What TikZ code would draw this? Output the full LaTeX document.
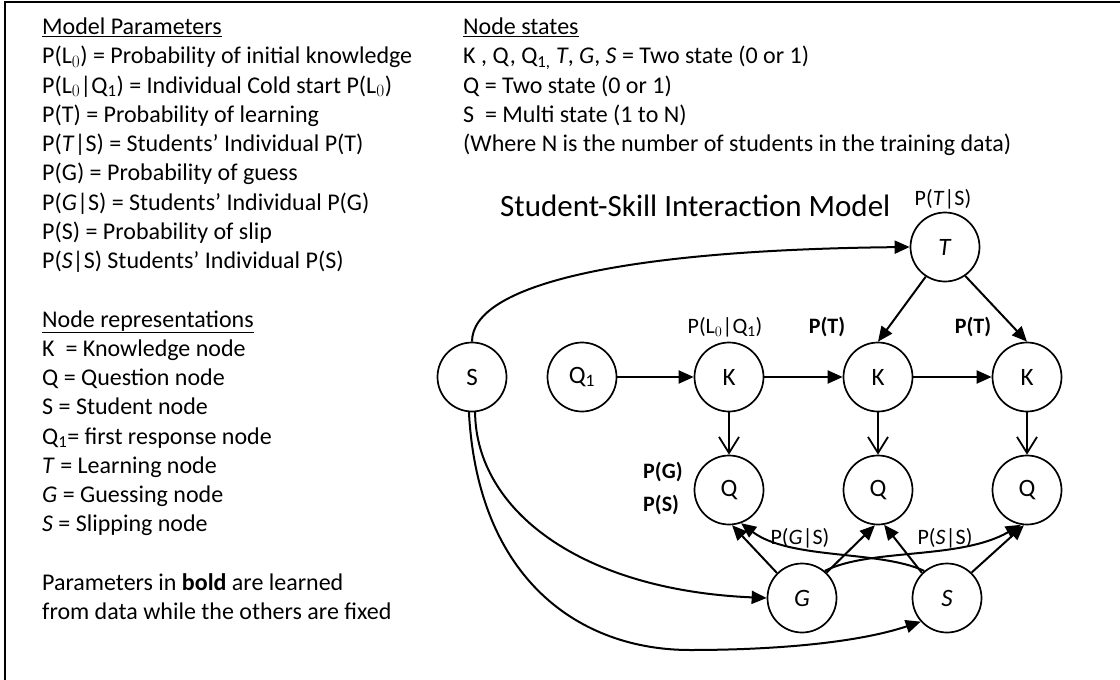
\documentclass[tikz,border=0pt]{standalone}
\usepackage{fontspec}
\setmainfont{Carlito}
\usetikzlibrary{arrows.meta}
\begin{document}
\begin{tikzpicture}[x=1pt,y=-1pt,
  txt/.style={anchor=base west, inner sep=0pt, font=\fontsize{24}{29}\selectfont},
  nd/.style={circle, draw, line width=1.7pt, minimum size=69pt, inner sep=0pt, font=\fontsize{25}{30}\selectfont},
  lbl/.style={inner sep=0pt, font=\fontsize{22}{26}\selectfont},
  blbl/.style={inner sep=0pt, font=\fontsize{22}{26}\selectfont\bfseries},
  arr/.style={line width=2pt, -{Triangle[length=15pt,width=13pt]}},
  oarr/.style={line width=1.8pt, -{Straight Barb[length=16pt,width=20pt]}},
]
\useasboundingbox (0,0) rectangle (1120,680);
\clip (0,0) rectangle (1120,680);
\draw[line width=2pt] (5,700) -- (5,2) -- (1130,2);

% left column
\node[txt] (mp)  at (42,34.5)   {\underline{Model Parameters}};
\node[txt] (p1)  at (42,63.75)  {P(L$_0$) = Probability of initial knowledge};
\node[txt] (p2)  at (42,93)     {P(L$_0$|Q\textsubscript{1}) = Individual Cold start P(L$_0$)};
\node[txt] (p3)  at (42,122.25) {P(T) = Probability of learning};
\node[txt] (p4)  at (42,151.5)  {P(\textit{T}|S) = Students’ Individual P(T)};
\node[txt] (p5)  at (42,180.75) {P(G) = Probability of guess};
\node[txt] (p6)  at (42,210)    {P(\textit{G}|S) = Students’ Individual P(G)};
\node[txt] (p7)  at (42,239.25) {P(S) = Probability of slip};
\node[txt] (p8)  at (42,268.5)  {P(\textit{S}|S) Students’ Individual P(S)};
\node[txt] (nr)  at (42,327)    {\underline{Node representations}};
\node[txt] (r1)  at (42,356.25) {K~ = Knowledge node};
\node[txt] (r2)  at (42,385.5)  {Q = Question node};
\node[txt] (r3)  at (42,414.75) {S = Student node};
\node[txt] (r4)  at (42,444)    {Q\textsubscript{1}= first response node};
\node[txt] (r5)  at (42,473.25) {\textit{T} = Learning node};
\node[txt] (r6)  at (42,502.5)  {\textit{G} = Guessing node};
\node[txt] (r7)  at (42,531.75) {\textit{S} = Slipping node};
\node[txt] (b1)  at (42,590.25) {Parameters in \textbf{bold} are learned};
\node[txt] (b2)  at (42,619.5)  {from data while the others are fixed};

% right column
\node[txt] (ns)  at (463,34.5)   {\underline{Node states}};
\node[txt] (s1)  at (463,63.75)  {K , Q, Q\textsubscript{1,} \textit{T}, \textit{G}, \textit{S} = Two state (0 or 1)};
\node[txt] (s2)  at (463,93)     {Q = Two state (0 or 1)};
\node[txt] (s3)  at (463,122.25) {S~ = Multi state (1 to N)};
\node[txt] (s4)  at (463,151.5)  {(Where N is the number of students in the training data)};

\node[anchor=base west, inner sep=0pt, font=\fontsize{31}{37}\selectfont] (title) at (500,216) {Student-Skill Interaction Model};

% nodes
\node[nd] (S)  at (472,377) {S};
\node[nd] (Q1) at (582,377) {Q\textsubscript{1}};
\node[nd] (K1) at (729,377) {K};
\node[nd] (K2) at (878,377) {K};
\node[nd] (K3) at (1027,377) {K};
\node[nd] (T)  at (945,247) {\textit{T}};
\node[nd] (Qa) at (729,490) {Q};
\node[nd] (Qb) at (878,490) {Q};
\node[nd] (Qc) at (1027,490) {Q};
\node[nd] (G)  at (802,598) {\textit{G}};
\node[nd] (Sl) at (947,598) {\textit{S}};

% labels
\node[lbl] (lL0) at (725,327) {P(L$_0$|Q\textsubscript{1})};
\node[lbl] (lTS) at (943,199) {P(\textit{T}|S)};
\node[blbl] (lT1) at (827,327) {P(T)};
\node[blbl] (lT2) at (973,327) {P(T)};
\node[blbl, anchor=west] (lG) at (643,472) {P(G)};
\node[blbl, anchor=west] (lS) at (643,505) {P(S)};
\node[lbl] (lGS) at (800,538) {P(\textit{G}|S)};
\node[lbl] (lSS) at (945,538) {P(\textit{S}|S)};

% connectors
\draw[arr] (S.north) .. controls (472,285) and (620,250) .. (T.west);
\draw[arr] (Q1) -- (K1);
\draw[arr] (K1) -- (K2);
\draw[arr] (K2) -- (K3);
\draw[arr] (T.237) -- (K2.north);
\draw[arr] (T.-55) -- (K3.north);
\draw[oarr] (K1) -- (Qa);
\draw[oarr] (K2) -- (Qb);
\draw[oarr] (K3) -- (Qc);
\draw[arr] (G.135) -- (Qa.-85);
\draw[arr] (G.46) -- (Qb.-95);
\draw[arr] (Sl.135) -- (Qb.-80);
\draw[arr] (Sl.46) -- (Qc.-95);
\draw[arr] (G.50) .. controls (870,548) and (960,560) .. (Qc.-100);
\draw[arr] (Sl.130) .. controls (880,550) and (790,560) .. (Qa.-70);
\draw[arr] (S.-85) .. controls (476,510) and (580,590) .. (G.west);
\draw[arr] (S.-95) .. controls (478,580) and (580,650) .. (690,650) coordinate (low)
  .. controls (780,650) and (860,642) .. (Sl.222);
\end{tikzpicture}
\end{document}
